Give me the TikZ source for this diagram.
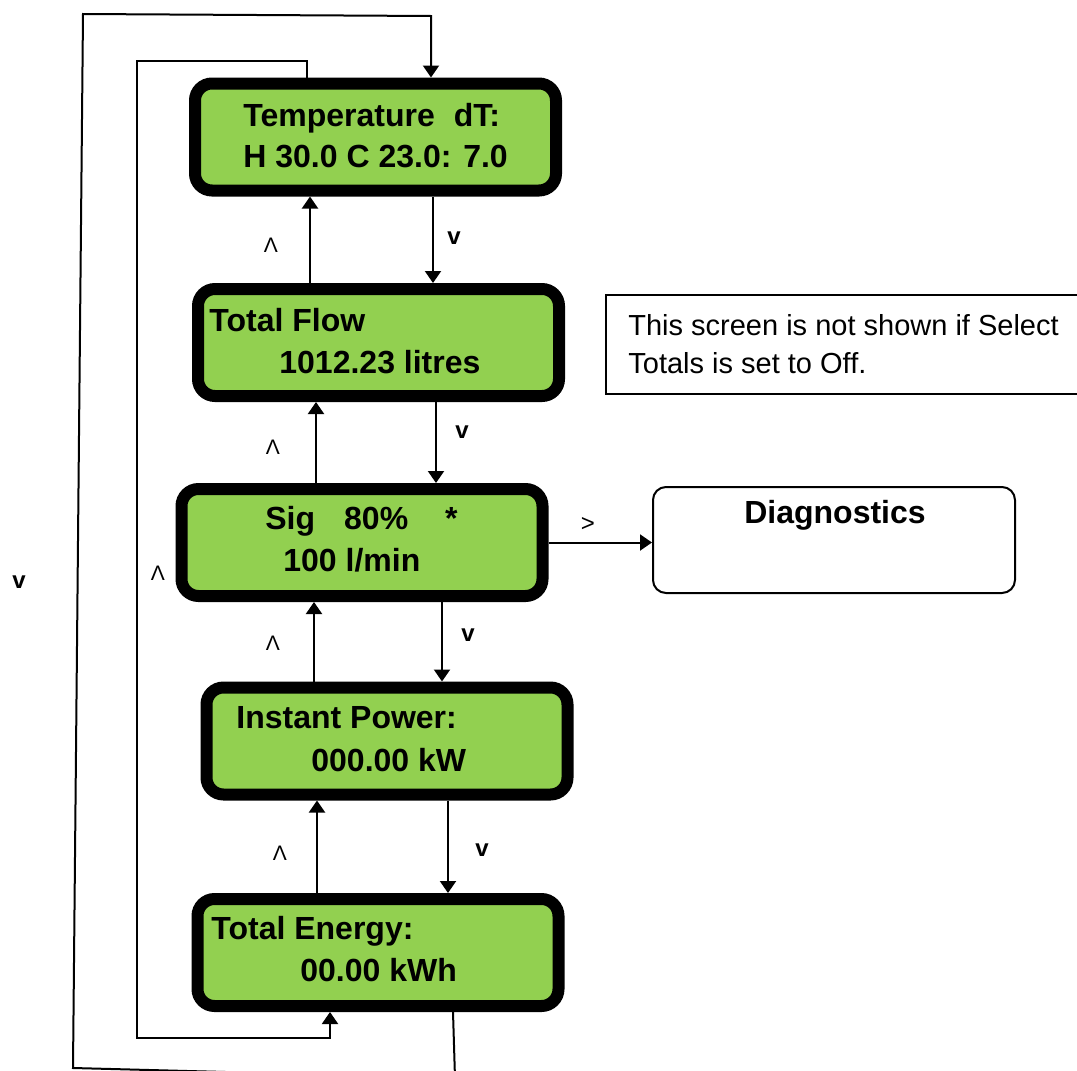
\documentclass[tikz,border=0pt]{standalone}
\usepackage{fontspec}
\setmainfont{Liberation Sans}
\usetikzlibrary{arrows.meta, positioning}
\definecolor{lcdgreen}{RGB}{146,208,80}
\tikzset{
  screen/.style={draw=black, line width=6pt, fill=lcdgreen, rounded corners=8.5pt,
    minimum width=180.5pt, minimum height=53.5pt, inner sep=0pt},
  scrtext/.style={anchor=base west, inner sep=0pt, font=\fontsize{16}{19}\selectfont\bfseries},
  arr/.style={line width=1pt, -{Triangle[length=6pt,width=8pt]}},
  uplbl/.style={inner sep=0pt, font=\fontsize{10.5}{12}\selectfont},
  dnlbl/.style={inner sep=0pt, font=\fontsize{12}{14}\selectfont\bfseries},
}

\begin{document}
\begin{tikzpicture}[x=0.5pt, y=-0.5pt]
\useasboundingbox (0,0) rectangle (1077,1071);

% Screens
\node[screen] (temp) at (375.5,137) {};
\node[screen] (flow) at (378.5,342.5) {};
\node[screen] (sig) at (362,542.5) {};
\node[screen] (power) at (387,741) {};
\node[screen] (energy) at (378,952.5) {};

% Screen texts
\node[scrtext] (temp1) at (243,126) {Temperature\hspace{9.5pt}dT:};
\node[scrtext] (temp2) at (243,167) {H 30.0 C 23.0: 7.0};
\node[scrtext] (flow1) at (209,331) {Total Flow};
\node[scrtext] (flow2) at (279,373) {1012.23 litres};
\node[scrtext] (sig1) at (265,529) {Sig\hspace{14.5pt}80\%\hspace{18.5pt}*};
\node[scrtext] (sig2) at (283,571) {100 l/min};
\node[scrtext] (power1) at (236,728) {Instant Power:};
\node[scrtext] (power2) at (311,771) {000.00 kW};
\node[scrtext] (energy1) at (211,939) {Total Energy:};
\node[scrtext] (energy2) at (300,981) {00.00 kWh};

% Diagnostics
\node[draw, line width=1pt, rounded corners=6.5pt, minimum width=181pt, minimum height=53pt] (diag) at (834,540) {};
\node[anchor=base, inner sep=0pt, font=\fontsize{16}{19}\selectfont\bfseries] (diagtxt) at (835,523) {Diagnostics};

% Note
\node[draw, line width=0.75pt, minimum width=242pt, minimum height=49.5pt, inner sep=0pt] (note) at (848,344.5) {};
\node[anchor=base west, inner sep=0pt, font=\fontsize{14.5}{17}\selectfont] (note1) at (628,335) {This screen is not shown if Select};
\node[anchor=base west, inner sep=0pt, font=\fontsize{14.5}{17}\selectfont] (note2) at (628,373) {Totals is set to Off.};

% Up and down
\foreach \a/\b/\xu/\xd in {temp/flow/310/433, flow/sig/316/436, sig/power/314/442, power/energy/317/448} {
  \draw[arr] (\b.north -| \xu,0) -- (\a.south -| \xu,0);
  \draw[arr] (\a.south -| \xd,0) -- (\b.north -| \xd,0);
}
\node[uplbl] (u1) at (271,245) {Λ};
\node[uplbl] (u2) at (273,447) {Λ};
\node[uplbl] (u3) at (273,643) {Λ};
\node[uplbl] (u4) at (280,853) {Λ};
\node[dnlbl] (d1) at (454,238) {v};
\node[dnlbl] (d2) at (462,432) {v};
\node[dnlbl] (d3) at (468,635) {v};
\node[dnlbl] (d4) at (482,850) {v};

% Right
\draw[arr] (sig.east) -- (sig.east -| diag.west);
\node[inner sep=0pt, font=\fontsize{12}{14}\selectfont] (r1) at (588,524) {>};

% Wrap around
\draw[arr] (temp.north -| 307,0) -- (307,61) -- (137,61) -- (137,1038) -- (330,1038) -- (energy.south -| 330,0);
\node[uplbl] (u5) at (158,573) {Λ};
\draw[arr] (energy.south -| 453,0) -- (455,1078) -- (73,1068) -- (83,14) -- (431,16) -- (temp.north -| 431,0);
\node[dnlbl] (d5) at (19,582) {v};

\end{tikzpicture}
\end{document}
